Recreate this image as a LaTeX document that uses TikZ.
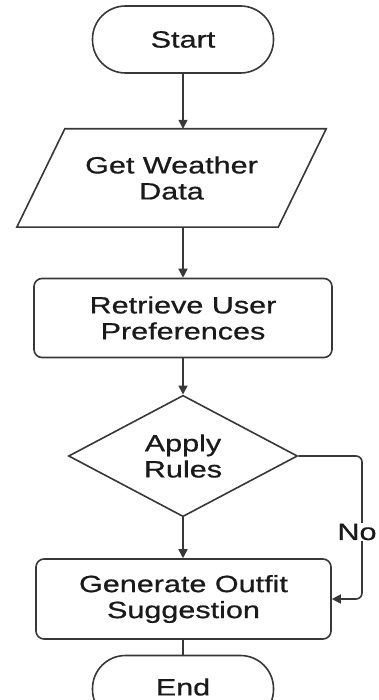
\documentclass[tikz,border=0pt]{standalone}
\usepackage{fontspec}
\setmainfont[FakeStretch=1.3,FakeBold=0.7]{Liberation Sans}
\usetikzlibrary{shapes.geometric,arrows.meta}
\definecolor{lnc}{HTML}{383838}
\definecolor{txc}{HTML}{1A1A1A}
\begin{document}
\begin{tikzpicture}[x=1pt,y=-1pt,
  every node/.style={text=txc,font=\fontsize{23.5}{26}\selectfont,align=center,inner sep=0pt},
  term/.style={draw=lnc,line width=1.6pt,rectangle,rounded corners=33pt,minimum width=181pt,minimum height=67pt},
  procbox/.style={draw=lnc,line width=1.6pt,rectangle,rounded corners=8pt},
  iobox/.style={minimum width=261pt,minimum height=98pt},
  decbox/.style={draw=lnc,line width=1.6pt,diamond,minimum width=229pt,minimum height=98pt},
  conn/.style={draw=lnc,line width=1.6pt},
  arr/.style={conn,-{Triangle[length=9pt,width=9pt]}}]
\clip (0,0) rectangle (378,700);
\fill[white] (0,0) rectangle (378,700);
\node[term] (start) at (183,39.5) {Start};
\node[iobox] (get) at (171.5,178) {Get Weather\\Data};
\draw[conn] ([xshift=24pt]get.north west) -- ([xshift=24pt]get.north east)
  -- ([xshift=-24pt]get.south east) -- ([xshift=-24pt]get.south west) -- cycle;
\node[procbox,minimum width=298pt,minimum height=79pt] (ret) at (183,318) {Retrieve User\\Preferences};
\node[decbox] (dec) at (183,456) {Apply\\Rules};
\node[procbox,minimum width=295pt,minimum height=80pt] (gen) at (183.5,599) {Generate Outfit\\Suggestion};
\node[term] (end) at (183,689) {};
\node (endtxt) at (183,687) {End};
\coordinate (nob) at (362,599);
\draw[arr] (start.south) -- (start.south |- get.north);
\draw[arr] (get.south -| ret.north) -- (ret.north);
\draw[arr] (ret.south) -- (dec.north);
\draw[arr] (dec.south) -- (gen.north -| dec.south);
\draw[conn] (gen.south -| end.north) -- (end.north);
\draw[arr,rounded corners=6pt] (dec.east) -| (nob) -- (gen.east);
\node[fill=white,inner sep=1pt] (no) at (357,532) {No};
\end{tikzpicture}
\end{document}
